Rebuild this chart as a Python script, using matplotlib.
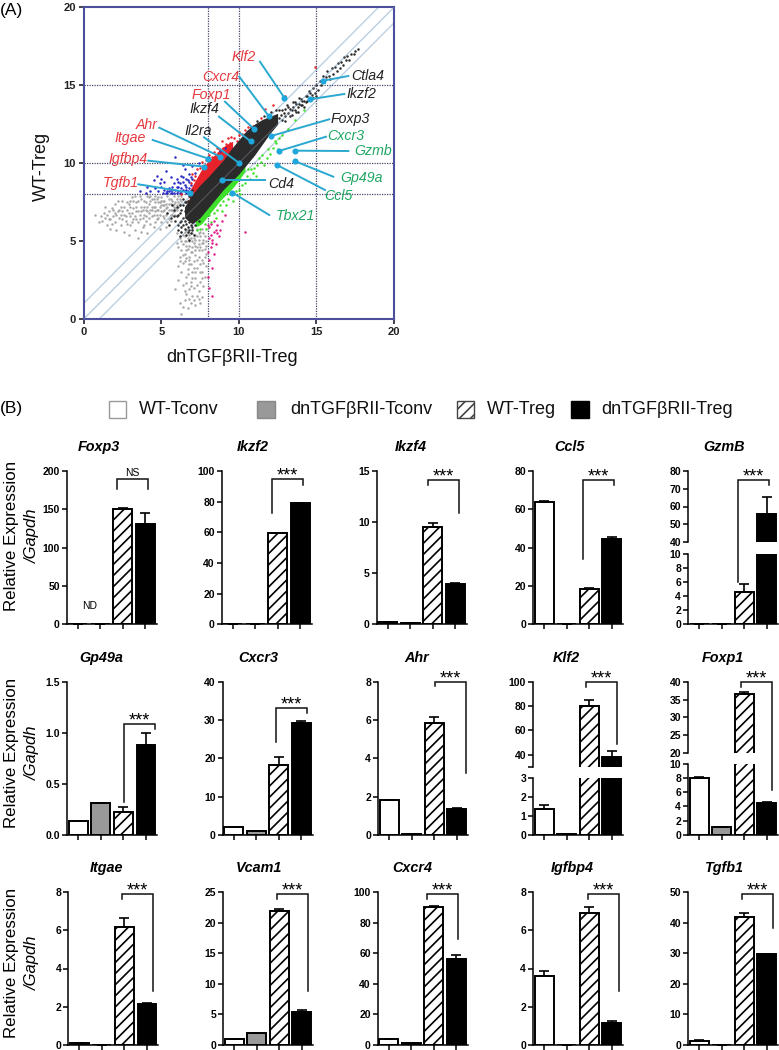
import numpy as np
import matplotlib
matplotlib.use("Agg")
import matplotlib.pyplot as plt
from matplotlib.patches import Rectangle

plt.rcParams['font.family'] = ['Liberation Sans', 'DejaVu Sans']
plt.rcParams['hatch.linewidth'] = 1.2

W, H = 779, 1050

# ---- panel A, values (dnTGFbRII-Treg, WT-Treg)
band_x = [6.5, 7.0, 7.5, 8.0, 8.5, 9.0, 9.5, 10.0, 10.5, 11.0, 11.5, 12.0, 12.5]
band_low = [6.5, 6.1, 6.5, 7.1, 7.7, 8.3, 8.8, 9.3, 9.9, 10.5, 11.2, 11.9, 12.5]
band_high = [7.2, 8.0, 8.6, 9.1, 9.65, 10.2, 10.9, 11.5, 12.1, 12.5, 12.8, 13.0, 13.2]
red_x = [6.8, 7.2, 7.6, 8.0, 8.4, 8.8, 9.2, 9.6]
red_high = [8.2, 8.9, 9.6, 10.1, 10.5, 10.9, 11.2, 11.4]
green_x = [7.2, 7.6, 8.0, 8.4, 8.8, 9.2, 9.6, 10.0, 10.4]
green_low = [5.9, 6.1, 6.6, 7.1, 7.6, 8.0, 8.4, 8.9, 9.5]

grey_left = [(0.7,6.7),(1.0,6.2),(1.1,6.6),(1.4,7.2),(1.4,6.5),(1.5,6.0),(1.6,6.9),(1.7,5.8),(1.7,6.4),(1.8,7.1),
    (1.9,6.6),(2.0,7.4),(2.0,6.2),(2.1,5.7),(2.2,6.9),(2.3,6.5),(2.4,7.2),(2.4,6.0),(2.5,7.6),(2.6,6.7),
    (2.6,5.6),(2.7,6.3),(2.8,7.0),(2.9,5.4),(2.9,7.4),(3.0,6.6),(3.0,6.0),(3.1,7.8),(3.2,7.1),(3.2,6.4),
    (3.3,5.7),(3.4,6.9),(3.4,7.5),(3.5,5.2),(3.5,6.2),(3.6,7.9),(3.6,6.7),(3.7,7.2),(3.8,5.9),(3.8,6.5),
    (3.9,7.6),(4.0,7.0),(4.0,6.3),(4.1,5.5),(4.1,7.9),(4.2,6.8),(4.2,7.4),(4.3,6.1),(4.4,7.7),(4.4,6.6),
    (4.5,5.9),(4.5,7.2),(4.6,7.9),(4.6,6.9),(4.7,6.4),(4.8,7.5),(4.8,7.0),(4.9,5.8),(4.9,6.7),(5.0,7.8),
    (5.0,7.3),(5.0,6.2),(5.1,6.9),(5.2,7.6),(5.2,6.5),(5.3,7.1),(5.3,5.9),(5.4,7.9),(5.4,6.8),(5.5,7.4),
    (5.5,6.4),(5.6,7.0),(5.6,7.7),(5.7,6.7),(5.7,7.3),(5.8,7.9),(5.8,6.9),(5.9,7.5),(5.9,7.1),(6.0,7.7),
    (6.0,7.3),(6.1,7.9),(6.1,7.5),(6.2,7.7),(6.3,7.9),(2.2,7.6),(2.8,6.1),(3.3,7.9),(3.7,5.6),(4.3,7.9),
    (4.7,7.7),(1.3,6.8),(1.9,7.0),(2.5,6.4),(3.1,6.8),(3.9,6.0),(4.6,6.2),(5.1,7.6),(5.6,6.3),(5.8,7.4),
    (1.6,6.4),(1.8,6.1),(2.1,6.7),(2.3,7.0),(2.5,6.9),(2.7,6.6),(2.8,7.5),(3.0,7.2),(3.1,6.2),(3.2,7.6),
    (3.3,6.6),(3.4,7.2),(3.5,6.9),(3.6,6.4),(3.7,7.7),(3.8,7.0),(3.9,6.7),(4.0,7.5),(4.0,6.6),(4.1,7.2),
    (4.2,6.5),(4.3,7.0),(4.3,7.6),(4.4,7.2),(4.5,6.7),(4.6,7.5),(4.7,7.0),(4.7,6.7),(4.8,7.8),(4.8,6.5),
    (4.9,7.2),(5.0,6.9),(5.1,7.3),(5.1,6.6),(5.2,7.0),(5.3,7.4),(5.3,6.7),(5.4,7.2),(5.4,6.2),(5.5,7.7),
    (5.5,7.0),(5.6,6.7),(5.7,7.6),(5.7,7.0),(5.8,7.2),(5.9,6.7),(6.0,7.0),(6.1,7.2),(6.2,7.4),(6.3,7.6),
    (2.0,6.8),(2.4,6.7),(2.9,6.8),(3.4,6.4),(3.7,6.9),(4.1,6.9),(4.4,7.0),(4.6,7.2),(4.9,7.5),(5.2,7.3),
    (1.2,6.3),(1.5,6.7),(2.6,7.2),(3.0,7.6),(3.5,7.6),(3.9,7.2),(4.2,7.8),(4.5,7.7),(5.0,7.6),(5.6,7.4)]
grey_low = [(6.3,0.3),(6.2,1.0),(6.4,0.8),(6.5,1.2),(6.7,0.7),(6.9,1.0),(7.2,0.9),(7.4,1.3),(7.0,1.5),(6.4,2.2),
    (6.1,2.5),(6.5,1.8),(6.8,1.9),(7.1,2.0),(7.4,1.8),(7.6,1.4),(6.3,3.0),(6.6,2.7),(6.9,2.4),(7.2,2.6),
    (7.5,2.4),(7.7,2.1),(6.1,3.4),(6.4,3.6),(6.7,3.2),(7.0,3.0),(7.3,3.3),(7.6,3.0),(7.8,2.7),(6.2,4.0),
    (6.5,4.2),(6.8,3.8),(7.1,3.7),(7.4,4.0),(7.7,3.6),(7.9,3.4),(6.1,4.6),(6.4,4.8),(6.7,4.5),(7.0,4.3),
    (7.3,4.6),(7.6,4.4),(7.9,4.2),(6.2,5.2),(6.5,5.3),(6.8,5.0),(7.1,4.9),(7.4,5.1),(7.7,4.9),(7.9,4.7),
    (6.0,5.5),(6.3,5.6),(6.6,5.7),(6.9,5.5),(7.2,5.4),(7.5,5.6),(7.8,5.3),(6.5,5.0),(7.0,5.8),(7.3,5.8),
    (7.6,5.8),(6.8,4.0),(7.2,4.1),(6.6,3.9),(7.5,3.5),(7.0,2.6),(6.6,2.3),(7.3,1.5),(6.9,3.5),(7.8,4.0),
    (7.1,5.2),(6.8,5.4),(6.4,5.4),(7.7,5.5),(7.4,4.4),(5.9,1.9),(6.0,4.9),(6.2,3.7),(7.6,2.6),(7.9,5.0),
    (6.7,5.2),(6.9,5.2),(7.0,5.0),(7.2,5.1),(7.3,5.3),(7.5,5.3),(6.6,5.0),(6.8,4.7),(7.0,4.6),(7.2,4.7),
    (7.4,4.8),(7.6,4.9),(6.6,4.4),(6.9,4.3),(7.2,4.4),(7.5,4.6),(6.5,3.7),(6.8,3.5),(7.1,3.3),(7.3,3.8),
    (7.6,3.8),(6.7,2.9),(7.2,3.0),(7.5,3.0),(6.9,2.1),(7.3,2.2),(6.6,1.6),(7.1,1.2),(7.5,1.0),(6.8,1.3),
    (6.3,4.4),(6.4,4.1),(6.6,4.7),(6.3,5.0),(6.5,5.6),(6.7,5.5),(7.0,5.5),(7.4,5.5),(7.7,5.1),(7.8,4.5)]
blue_pts = [(3.6,8.2),(4.0,8.1),(4.1,8.5),(4.3,8.2),(4.5,8.9),(4.6,8.4),(4.7,9.2),(4.8,8.2),(5.0,9.0),(5.0,8.5),
    (5.2,8.8),(5.3,9.5),(5.4,8.2),(5.4,8.1),(5.5,8.4),(5.6,8.1),(5.6,9.1),(5.7,8.3),(5.8,8.7),(5.8,8.1),
    (6.0,8.5),(6.0,9.0),(6.1,8.2),(6.2,8.7),(6.2,8.1),(6.3,9.2),(6.3,8.4),(6.4,8.8),(6.5,8.2),(6.5,9.6),
    (6.6,8.5),(6.7,8.9),(6.7,8.2),(6.8,9.3),(6.9,8.6),(7.0,9.8),(7.0,9.0),(7.2,9.4),(5.9,10.4),(6.4,9.9),
    (7.4,10.0),(8.0,10.4),(9.1,11.0),(8.8,10.8),(5.2,8.3),(5.7,8.5),(6.1,8.8),(6.6,8.3),(6.9,8.2),
    (5.5,8.2),(5.6,8.3),(5.7,8.1),(5.9,8.3),(6.0,8.1),(6.1,8.5),(6.3,8.1),(6.4,8.3),(6.5,8.6),(6.6,8.1),
    (6.8,8.4),(6.8,8.8),(6.4,9.1),(6.6,9.0),(5.3,8.1),(4.9,8.7),(5.1,8.1),(6.9,9.1)]
red_pts = [(6.3,8.0),(6.7,7.6),(7.0,9.3),(7.3,9.6),(7.6,10.1),(7.8,9.9),(8.1,10.5),(8.4,10.7),(8.6,11.0),(9.0,11.0),
    (9.4,11.3),(9.5,11.7),(9.9,11.4),(10.0,11.8),(10.2,11.9),(10.6,12.3),(10.0,12.0),(10.9,12.4),(11.4,12.9),(11.7,13.5),
    (12.2,13.7),(13.0,14.3),(14.9,16.2),(7.1,8.9),(7.4,7.9),(8.2,10.0),(6.9,8.7),(7.2,9.2),(7.5,9.7),(7.9,10.2),
    (8.3,10.4),(8.7,10.9),(9.2,11.2),(9.7,11.6),(10.4,12.1),(8.9,11.4),(9.3,11.6),(7.7,9.8)]
green_pts = [(7.9,5.8),(8.2,6.2),(8.5,6.5),(8.9,6.9),(9.2,7.3),(9.6,7.6),(10.0,8.3),(10.1,8.0),(10.4,8.7),(10.7,9.0),
    (10.8,9.6),(11.0,9.7),(11.1,9.2),(11.4,10.1),(11.6,9.9),(11.8,10.3),(12.0,10.6),(12.2,11.0),(12.4,11.3),(12.6,11.6),
    (12.8,11.8),(13.2,12.2),(13.6,12.8),(14.2,13.4),(14.8,14.2),(12.5,10.9),(9.4,8.0),(8.1,6.7),(8.6,7.0),(9.0,7.6),
    (9.8,8.2),(10.2,8.6),(10.5,9.2),(10.9,9.4),(11.2,9.9),(11.5,10.5),(7.5,5.8),(7.8,6.1),(8.4,6.8),(8.8,7.3),
    (9.3,7.7),(10.6,9.6),(11.3,10.3),(11.9,10.9),(12.3,11.4),(7.3,5.7)]
pink_pts = [(8.1,5.9),(8.2,5.4),(8.3,5.1),(8.4,5.6),(8.6,6.0),(8.0,6.0),(8.4,6.3),(8.7,5.3),(8.5,4.8),(8.2,4.6),
    (8.0,4.3),(8.4,4.2),(8.1,3.8),(8.3,3.3),(8.0,2.7),(8.1,2.0),(8.9,6.3),(9.1,6.7),(8.8,5.7),(10.4,5.6),(8.3,1.5),
    (8.2,6.1),(8.5,5.7),(8.3,4.9),(8.1,5.2),(8.6,5.5)]
black_left = [(5.4,6.8),(5.6,6.5),(5.8,7.0),(5.9,6.3),(6.0,7.2),(6.1,6.7),(6.1,5.7),(6.2,6.2),(6.3,5.6),(6.3,7.0),
    (6.4,6.5),(6.4,7.3),(6.5,5.8),(6.6,5.4),(6.6,7.0),(6.7,5.9),(6.7,7.6),(6.8,6.2),(6.9,5.5),(6.9,7.8),
    (6.2,5.3),(5.7,7.3),(5.5,6.0),(6.5,6.9),(6.8,5.1),(7.0,5.7),(7.1,5.4),(6.0,6.6),(6.2,6.8),(6.3,6.3),
    (6.4,6.0),(6.5,6.3),(6.6,6.1),(6.6,6.6),(6.7,6.4),(6.8,5.7),(6.8,6.8),(6.9,6.0),(6.9,7.2),(6.2,7.3),
    (6.4,7.7),(6.6,7.5),(6.5,7.5),(6.8,7.9),(7.0,8.3),(7.0,5.9),(7.2,6.0),(7.4,6.3),
    (5.8,6.6),(6.1,6.0),(6.3,5.9),(6.7,5.6),(10.4,11.9),(10.8,12.3),(11.2,12.7),(11.6,13.0),(12.1,13.3),(12.4,13.4)]
black_tail = [(12.6,12.9),(12.8,13.4),(13.0,13.0),(13.1,13.7),(13.2,13.2),(13.3,13.5),(13.4,13.1),(13.5,13.9),(13.6,13.4),(13.7,13.8),
    (13.8,13.3),(13.9,14.2),(14.0,13.7),(14.1,14.0),(14.2,13.6),(14.3,14.3),(14.4,14.0),(14.5,14.6),(14.6,14.2),(14.7,14.4),
    (14.8,14.8),(14.9,14.5),(15.0,15.0),(15.1,14.7),(15.2,15.3),(15.3,15.0),(15.4,15.6),(15.5,15.2),(15.6,15.5),(15.7,15.9),
    (15.8,15.6),(15.9,15.4),(16.0,16.1),(16.1,15.7),(16.2,16.2),(16.3,15.9),(16.4,16.4),(16.5,16.1),(16.6,16.5),(16.7,16.3),
    (16.8,16.8),(16.9,16.6),(17.0,16.9),(17.1,16.6),(17.2,17.0),(17.4,17.0),(17.5,17.2),(17.7,17.3),(15.0,14.3),(13.0,12.7),
    (12.7,13.1),(12.9,13.2),(13.0,13.5),(13.2,13.6),(13.3,13.0),(13.4,13.4),(13.5,13.6),(13.6,13.9),(13.7,13.3),(13.8,13.6),
    (13.9,13.8),(14.0,14.1),(14.1,13.7),(14.2,14.0),(14.3,13.9),(14.4,14.3),(14.6,14.5),(14.8,14.2),(12.6,13.4),(12.8,12.8)]

gene_names = ['Klf2','Cxcr4','Foxp1','Ikzf4','Il2ra','Ahr','Itgae','Igfbp4','Tgfb1',
              'Ctla4','Ikzf2','Foxp3','Cxcr3','Gzmb','Gp49a','Ccl5','Cd4','Tbx21']
gene_x = [12.93,11.92,10.98,10.76,9.99,8.79,8.03,7.76,6.85,15.45,14.59,12.07,12.59,13.64,13.64,12.46,8.92,9.58]
gene_y = [14.2,13.03,12.19,11.4,10.03,10.42,10.29,9.78,8.11,15.29,14.1,11.74,10.78,10.8,10.12,9.88,8.92,8.11]
gene_group = ['r','r','r','k','k','r','r','r','r','k','k','k','g','g','g','g','k','g']

# ---- panel B
titles = ['Foxp3','Ikzf2','Ikzf4','Ccl5','GzmB',
          'Gp49a','Cxcr3','Ahr','Klf2','Foxp1',
          'Itgae','Vcam1','Cxcr4','Igfbp4','Tgfb1']
means = [[0,0,150,131],[0.5,0,59.5,79],[0.2,0.08,9.5,3.95],[63.7,0,18.4,44.5],[0.05,0.05,4.6,56],
         [0.13,0.31,0.22,0.88],[1.9,1.0,18.2,29.3],[1.82,0.05,5.85,1.37],[1.38,0.02,80,38],[8.0,1.1,36.7,4.55],
         [0.1,0.01,6.15,2.13],[1.0,1.9,21.9,5.35],[4,1,90.5,56.5],[3.63,0.02,6.92,1.15],[1.4,0,41.8,29.8]]
errs = [[0,0,2,14],[0,0,0.3,0.3],[0.05,0.02,0.4,0.05],[0.9,0,0.3,1.2],[0,0,1.1,9.5],
        [0,0,0.05,0.12],[0.2,0.05,2.2,0.5],[0.02,0.01,0.3,0.05],[0.2,0,5,5],[0.1,0.05,0.5,0.05],
        [0.02,0,0.5,0.05],[0,0,0.3,0.3],[0.1,0.1,0.5,2],[0.25,0,0.27,0.08],[0.1,0,1.2,0.1]]
ytops = [200,100,15,80,None,1.5,40,8,None,None,8,25,100,8,50]
ysteps = [50,20,5,20,None,0.5,10,2,None,None,2,5,20,2,10]
sig = ['NS']+['***']*14
legend_names = ['WT-Tconv','dnTGF\u03b2RII-Tconv','WT-Treg','dnTGF\u03b2RII-Treg']

# layout in pixels
spine_x = [66.7,221.7,376.7,533,688, 67.3,222.7,378,533,688, 68.3,223,377.7,533,688]
title_x = [99,253,411,569,724, 101.7,258,417,566,723, 106.7,259,412,572,724]
row_top = [471,682,892]
row_bot = [624.3,834.7,1045]
title_y = [447,658,868]
ylabel_y = [535.7,753,963]
# x left, x right, top, left end, right end
brackets = [(116.7,147.7,479.3,489.3,489.3),(272.3,303.3,479.3,513.3,484.7),(428,459,480,484.7,513),
            (583.3,614.3,480,559,484.7),(737.7,769,480,581.7,485),
            (124,155,724,801.7,728.7),(276.3,307.3,707.7,741.7,712.7),(435,466,682,686,772.7),
            (585.7,616.7,682,686.7,744),(741,771.7,682,686.7,790),
            (122,153,894,898.7,990.7),(277.3,308.3,894,898.7,990.7),(427.3,458.3,894,898.7,939),
            (588.3,619.3,894,898.7,990.7),(742.3,773.3,894,898.7,927.7)]
# broken axes: lower top px, upper bottom px, lower ylim, upper ylim, ticks
broken = {4:(553.7,542,(0,10),(40,80),range(0,11,2),range(40,81,10)),
          8:(778,766.7,(0,3),(30,100),range(0,4),[30,40,60,80,100]),
          9:(764,752.7,(0,10),(20,40),range(0,11,2),range(20,41,5))}

# text x, y, line start x, y in px
gene_text = [(244,57.3),(220.7,76.7),(211,94.7),(204,109),(198.3,131),(146.7,124.7),(130,138),(128.3,159),(120.7,183.3),
             (368,76),(361.7,93.7),(350.7,118.7),(346,136.3),(373.3,151.3),(361.7,177.7),(338,196.3),(281,184),(295,215.7)]
line_start = [(260,61.7),(239.3,76.7),(225,101.7),(219,116.7),(204,137.3),(159.3,127.7),(152.7,140),(148.3,160.7),(138.3,184.3),
              (348.3,76),(344.3,94),(329.3,119.3),(326,136.7),(348.3,151),(333.3,176.7),(325,190),(265,180),(269.3,215)]
group_col = {'r':'#e5383f','k':'#222222','g':'#1fa763'}


def px_axes(x0, x1, ytop, ybot):
    return fig.add_axes([x0/W, 1-ybot/H, (x1-x0)/W, (ybot-ytop)/H])


def draw_bars(ax, vals, err):
    ax.bar(0, vals[0], 0.84, color='white', edgecolor='black', lw=1.4)
    ax.bar(1, vals[1], 0.84, color='#999999', edgecolor='black', lw=1.4)
    ax.bar(2, vals[2], 0.84, color='white', edgecolor='black', lw=1.4, hatch='///')
    ax.bar(3, vals[3], 0.84, color='black', edgecolor='black', lw=1.4)
    ax.errorbar(range(4), vals, yerr=[np.zeros(4), err], fmt='none', ecolor='black',
                elinewidth=1.2, capsize=3.5, capthick=1.2)
    ax.set_xlim(-0.49, 3.5)
    ax.spines['top'].set_visible(False)
    ax.spines['right'].set_visible(False)
    ax.spines['left'].set_linewidth(1.1)
    ax.spines['bottom'].set_linewidth(1.1)
    ax.tick_params(axis='y', labelsize=7.5, length=3.5, width=1.1, pad=1.5)
    ax.tick_params(axis='x', length=3.5, width=1.1, labelbottom=False)
    ax.set_xticks(range(4))
    for t in ax.get_yticklabels():
        t.set_fontweight('bold')


fig = plt.figure(figsize=(W/100, H/100), dpi=100)

# ---- scatter
ax = px_axes(83.7, 394, 7.3, 319)
ax.set_xlim(0, 20)
ax.set_ylim(0, 20)
for d in [-1, 0, 1]:
    ax.plot([0, 20], [0+d, 20+d], color='#bcd0e2', lw=1.0, zorder=1)
for v in [8, 10, 15]:
    ax.axvline(v, color='#44466a', lw=0.9, ls=(0, (1, 1)), zorder=1.5)
    ax.axhline(v, color='#44466a', lw=0.9, ls=(0, (1, 1)), zorder=1.5)
ax.fill_between(red_x, np.interp(red_x, band_x, band_high)-0.2, red_high, color='#e8222a', lw=0, zorder=2)
ax.fill_between(green_x, green_low, np.interp(green_x, band_x, band_low)+0.2, color='#3fe02c', lw=0, zorder=2)
groups = [(grey_left, '#a9a9a9'), (grey_low, '#a9a9a9'), (blue_pts, '#2a2ac4'), (red_pts, '#e8222a'),
          (green_pts, '#3fe02c'), (pink_pts, '#e0228c'), (black_left, '#2b2b2b'), (black_tail, '#2b2b2b')]
for pts, col in groups:
    p = np.array(pts)
    ax.scatter(p[:, 0], p[:, 1], s=3.2, color=col, lw=0, marker='o', zorder=2.5)
ax.fill_between(band_x, band_low, band_high, color='#2b2b2b', lw=0, zorder=3)
ax.plot([0, 20], [0, 20], color='#bcd0e2', lw=0.6, alpha=0.35, zorder=3.1)
ax.set_xticks([0, 5, 10, 15, 20])
ax.set_yticks([0, 5, 10, 15, 20])
ax.tick_params(labelsize=8, length=3.5, width=1.3, color='#33343f', labelcolor='#222222', pad=2)
for t in ax.get_xticklabels()+ax.get_yticklabels():
    t.set_fontweight('bold')
for s in ax.spines.values():
    s.set_color('#4b4f9e')
    s.set_linewidth(1.5)

# ---- overlay in pixel coordinates for labels, brackets and legend
ov = fig.add_axes([0, 0, 1, 1], zorder=10)
ov.set_xlim(0, W)
ov.set_ylim(H, 0)
ov.axis('off')

to_px = lambda x, y: (83.7+x*(394-83.7)/20, 319-y*(319-7.3)/20)
for i in range(len(gene_names)):
    dx, dy = to_px(gene_x[i], gene_y[i])
    sx, sy = line_start[i]
    ov.plot([sx, dx], [sy, dy], color='#2aa8cf', lw=1.4)
    ov.plot(dx, dy, 'o', color='#1fa6dc', ms=4.4, mew=0)
    ov.text(gene_text[i][0], gene_text[i][1], gene_names[i], color=group_col[gene_group[i]],
            fontsize=10.2, style='italic', ha='center', va='center')
ov.text(232, 358, 'dnTGF\u03b2RII-Treg', fontsize=13, ha='center', va='center', color='#111111')
ov.text(41, 166, 'WT-Treg', fontsize=13, rotation=90, ha='center', va='center', color='#111111')
ov.text(0, 10, '(A)', fontsize=12.5, ha='left', va='center')
ov.text(0, 408, '(B)', fontsize=12.5, ha='left', va='center')

# legend
leg_x = [108.7, 257, 456.7, 571]
leg_tx = [138.7, 290, 486.7, 601]
leg_face = ['white', '#999999', 'white', 'black']
leg_edge = ['#999999', '#888888', '#444444', 'black']
for i in range(4):
    ov.add_patch(Rectangle((leg_x[i], 401), 17.6, 17.4, facecolor=leg_face[i], edgecolor=leg_edge[i],
                           lw=1.0, hatch='///' if i == 2 else None))
    ov.text(leg_tx[i], 410, legend_names[i], fontsize=13, ha='left', va='center', color='#111111')

# ---- bar panels
for i in range(15):
    r = i//5
    x0 = spine_x[i]
    x1 = x0+90
    if i in broken:
        lt, ub, lim_lo, lim_hi, tk_lo, tk_hi = broken[i]
        lo = px_axes(x0, x1, lt, row_bot[r])
        lo.set_ylim(*lim_lo)
        lo.set_yticks(list(tk_lo))
        draw_bars(lo, means[i], errs[i])
        up = px_axes(x0, x1, row_top[r], ub)
        up.set_ylim(*lim_hi)
        up.set_yticks(list(tk_hi))
        draw_bars(up, means[i], errs[i])
        up.spines['bottom'].set_visible(False)
        up.set_xticks([])
        if i == 8:
            up.set_yticklabels(['', '40', '60', '80', '100'], fontweight='bold')
    else:
        a = px_axes(x0, x1, row_top[r], row_bot[r])
        a.set_ylim(0, ytops[i])
        a.set_yticks(np.arange(0, ytops[i]+ysteps[i]/2, ysteps[i]))
        draw_bars(a, means[i], errs[i])
        if i == 5:
            a.set_yticklabels(['0.0', '0.5', '1.0', '1.5'], fontweight='bold')

    ov.text(title_x[i], title_y[r], titles[i], fontsize=10.4, fontweight='bold', style='italic',
            ha='center', va='center')
    xl, xr, top, le, re = brackets[i]
    ov.plot([xl, xl, xr, xr], [le, top, top, re], color='#111111', lw=1.1, solid_joinstyle='miter')
    if sig[i] == 'NS':
        ov.text((xl+xr)/2, top-6, 'NS', fontsize=7.5, ha='center', va='center')
    else:
        ov.text((xl+xr)/2, top-3, '***', fontsize=13, ha='center', va='center')

ov.text(89.3, 606, 'ND', fontsize=7.5, ha='center', va='center')

for r in range(3):
    ov.text(11.7, ylabel_y[r], 'Relative Expression', fontsize=12.2, rotation=90, ha='center', va='center')
    ov.text(32, ylabel_y[r], '/Gapdh', fontsize=12, style='italic', rotation=90, ha='center', va='center')

fig.savefig('out.png', dpi=100)
